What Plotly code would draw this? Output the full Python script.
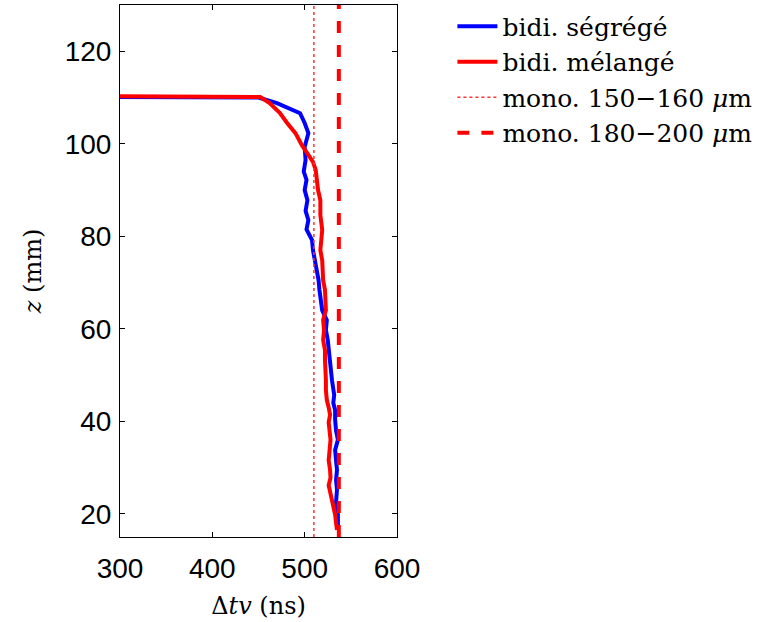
import plotly.graph_objects as go

# z (mm) and Δtv (ns) for each bidisperse case
z_segrege = [110.1, 110.0, 108.8, 106.6, 104.5, 102.3, 99.3, 96.5, 94.0, 92.2, 90.0, 87.8, 85.5,
             83.5, 81.5, 79.2, 77.0, 74.9, 72.8, 70.6, 68.4, 66.2, 64.0, 61.9, 59.8, 57.6, 55.5,
             53.3, 51.0, 48.9, 47.0, 45.7, 44.0, 42.4, 40.3, 38.0, 36.0, 33.8, 31.5, 29.5, 27.3,
             25.2, 22.5, 19.8, 17.2]
dtv_segrege = [300, 450, 470, 495, 500, 504, 500, 501, 499, 502, 500, 503, 501,
               504, 502, 508, 509, 511, 513, 515, 516, 517, 519, 524, 523, 525, 526,
               527, 528, 529.6, 531, 532, 531, 533, 533, 534, 536, 533, 534, 535, 534,
               535, 534, 536, 536]

z_melange = [110.3, 110.1, 108.8, 106.7, 104.5, 102.3, 99.7, 97.6, 96.1, 94.3, 92.2, 90.0, 87.8,
             84.6, 81.4, 79.0, 77.0, 74.8, 72.7, 70.5, 68.4, 66.2, 64.0, 61.9, 59.7, 57.6, 55.4,
             53.3, 51.1, 48.9, 46.8, 44.6, 43.0, 41.4, 39.8, 38.1, 36.0, 33.8, 31.6, 29.5, 27.8,
             26.2, 24.6, 23.0, 21.4, 19.8, 18.1, 16.5]
dtv_melange = [300, 452, 462, 473, 481, 490, 497, 504, 509, 512, 513, 514.5, 517,
               517, 519, 518, 517, 519, 519, 520, 522, 522, 523, 520, 521, 520, 522,
               522, 523, 523, 523, 524, 526, 527.5, 526, 527, 528, 527, 526, 527.5, 528,
               526, 528, 530, 531, 533, 534, 535]

# monodisperse reference values (ns)
mono_150_160 = 510
mono_180_200 = 537

x_ticks = [300, 400, 500, 600]
y_ticks = [20, 40, 60, 80, 100, 120]
x_range = [300, 600]
y_range = [15, 130]

SERIF = "DejaVu Serif, Liberation Serif"

fig = go.Figure()
fig.add_trace(go.Scatter(x=dtv_segrege, y=z_segrege, mode="lines", name="bidi. ségrégé",
                         line=dict(color="#0000ff", width=4)))
fig.add_trace(go.Scatter(x=dtv_melange, y=z_melange, mode="lines", name="bidi. mélangé",
                         line=dict(color="#ff0000", width=4)))
fig.add_trace(go.Scatter(x=[mono_150_160, mono_150_160], y=y_range, mode="lines",
                         name="mono. 150\u2212160 <i>μ</i>m",
                         line=dict(color="#ff3030", width=1.5, dash="dot")))
fig.add_trace(go.Scatter(x=[mono_180_200, mono_180_200], y=y_range, mode="lines",
                         name="mono. 180\u2212200 <i>μ</i>m",
                         line=dict(color="#ff0000", width=4, dash="dash")))

axis_common = dict(showgrid=False, zeroline=False, showline=True, linecolor="black",
                   linewidth=1, mirror="ticks", ticks="inside", ticklen=5,
                   tickcolor="black",
                   tickfont=dict(family="Liberation Sans, Arial", size=28, color="black"))

fig.update_xaxes(range=x_range, tickvals=x_ticks, ticklabelstandoff=6,
                 title=dict(text="Δ<i>tv</i> (ns)",
                            font=dict(family=SERIF, size=24, color="black"),
                            standoff=14),
                 **axis_common)
fig.update_yaxes(range=y_range, tickvals=y_ticks, ticklabelstandoff=2,
                 title=dict(text="<i>z</i> (mm)",
                            font=dict(family=SERIF, size=24, color="black"),
                            standoff=16),
                 **axis_common)

fig.update_layout(
    width=770, height=622,
    margin=dict(l=120, r=373, t=5, b=85, autoexpand=False),
    plot_bgcolor="white", paper_bgcolor="white",
    legend=dict(x=1.2, y=1.003, xanchor="left", yanchor="top",
                font=dict(family=SERIF, size=25, color="black"),
                bgcolor="rgba(0,0,0,0)", tracegroupgap=0, itemwidth=40),
    showlegend=True,
)

fig.write_html("out.html", config={"displayModeBar": False},
               post_script="document.body.style.margin='0';")
